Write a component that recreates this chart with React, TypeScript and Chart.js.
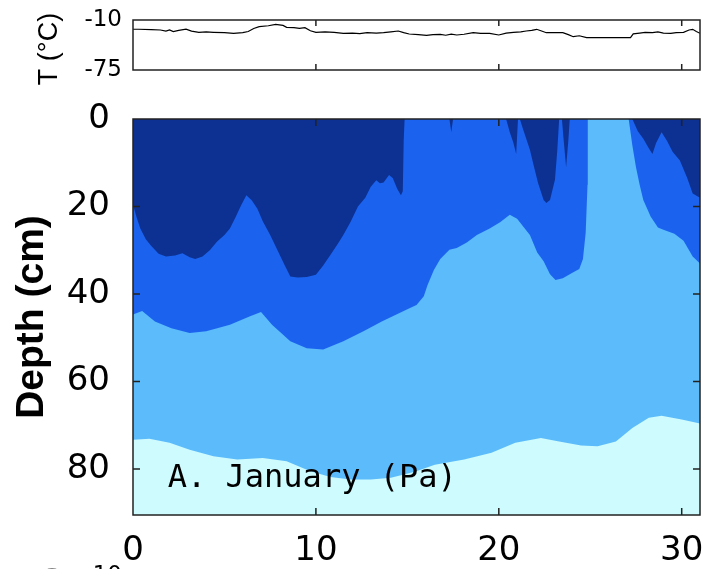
import React, { useEffect, useRef } from "react";
import { Chart, registerables } from "chart.js";

Chart.register(...registerables);

// ---------- data ----------
const DAY_MIN = 0;
const DAY_MAX = 31;
const DEPTH_MIN = 0;
const DEPTH_MAX = 90.5;
const TEMP_MIN = -75;
const TEMP_MAX = -10;

const DAY_TICKS = [0, 10, 20, 30];
const DEPTH_TICKS = [0, 20, 40, 60, 80];
const TEMP_TICKS = [-75, -10];

const TEMP_TITLE = "T (°C)";
const DEPTH_TITLE = "Depth (cm)";
const ANNOTATION = "A. January (Pa)";
const ANNOTATION_DAY = 1.9;
const ANNOTATION_DEPTH = 84.1;

// air temperature (top panel)
const tempDays = [
  0, 0.3, 1.0, 1.5, 1.8, 2.0, 2.2, 2.5, 2.9, 3.2, 3.6, 4.0, 4.4, 5.0, 5.5, 6.0,
  6.3, 6.6, 6.9, 7.4, 7.8, 8.2, 8.4, 8.8, 9.1, 9.4, 9.7, 10.0, 10.5, 11.0, 11.5,
  12.0, 12.4, 12.8, 13.3, 13.7, 14.1, 14.5, 14.8, 15.1, 15.6, 16.05, 16.4, 16.8,
  17.1, 17.4, 17.7, 18.1, 18.6, 19.0, 19.5, 20.0, 20.4, 20.8, 21.2, 21.5, 21.8,
  22.07, 22.3, 22.6, 23.0, 23.5, 23.8, 24.07, 24.4, 24.8, 25.5, 26.2, 27.2,
  27.35, 27.7, 28.0, 28.4, 28.7, 29.0, 29.4, 29.7, 30.1, 30.4, 30.6, 30.8, 31,
];
const tempValues = [
  -22, -22, -22.5, -23, -24.5, -23, -25, -23.5, -22, -24.5, -26, -25.5, -26,
  -26.5, -27.3, -26.5, -25, -21, -18.7, -17.5, -15.6, -17, -19.5, -20, -21, -20,
  -24, -26, -25.5, -26, -27.3, -27, -27.8, -26.5, -27, -26.5, -25.5, -24.3,
  -26.5, -28.2, -29, -29.9, -29, -28.6, -29.8, -28.5, -29.5, -28.5, -26.5,
  -27.5, -27.3, -29.5, -27, -26, -25.5, -24.3, -23.5, -22.1, -24, -26.5, -26.5,
  -26.5, -29, -31.7, -30.5, -33, -33, -33, -33, -28, -27, -26, -26.5, -25.5,
  -27, -27.3, -26.5, -26, -23, -22.1, -25, -27.3,
];

// contour boundaries: [day, depth in cm]
const darkEdge: [number, number][] = [
  [0, 19.6], [0.2, 22.5], [0.4, 25], [0.7, 27.5], [1, 29], [1.4, 30.8],
  [1.8, 31.4], [2.3, 31.2], [2.7, 30.7], [3.1, 31.6], [3.4, 32], [3.8, 31.4],
  [4.2, 30], [4.6, 28], [5, 26.5], [5.3, 25], [5.6, 22.5], [5.9, 19.8],
  [6.2, 17.4], [6.5, 18.6], [6.8, 20.5], [7.1, 23.4], [7.5, 26.5], [7.9, 30],
  [8.3, 33.5], [8.6, 36], [9.0, 36.2], [9.5, 36.1], [10.0, 35.6], [10.4, 33.5],
  [10.8, 31], [11.2, 28.5], [11.5, 26.5], [11.9, 23.5], [12.3, 20], [12.7, 18],
  [13.0, 15.5], [13.3, 14], [13.5, 14.7], [13.7, 14.5], [14.0, 12.8],
  [14.2, 13.5], [14.45, 16], [14.65, 17.4], [14.75, 16.5], [14.8, 5],
  [14.85, 0], [17.3, 0], [17.4, 3], [17.5, 0], [20.4, 0], [20.6, 3],
  [20.8, 5.5], [20.95, 8], [21.05, 0], [21.15, 0], [21.3, 2], [21.5, 4.5],
  [21.7, 7], [21.9, 10.5], [22.15, 14.7], [22.45, 18.5], [22.6, 19.2],
  [22.8, 18.5], [23.07, 13.9], [23.2, 7], [23.3, 0], [23.45, 0], [23.55, 5],
  [23.68, 11], [23.8, 5], [23.88, 0], [27.3, 0], [27.6, 2.8], [27.9, 4.5],
  [28.2, 6.7], [28.4, 8], [28.6, 5.5], [28.9, 3], [29.2, 5], [29.5, 7.5],
  [29.9, 9.5], [30.3, 13.5], [30.6, 17], [31, 18],
];

const mediumEdge: [number, number][] = [
  [0, 44.7], [0.5, 43.9], [1.2, 46.3], [2.1, 47.8], [3.1, 48.9], [4.0, 48.5],
  [5.3, 47], [6.4, 45.1], [7.0, 44.1], [7.6, 47], [8.6, 50.8], [9.5, 52.4],
  [10.4, 52.7], [11.5, 50.8], [12.6, 48.5], [13.6, 46.3], [14.4, 44.7],
  [15.0, 43.5], [15.5, 42.5], [15.9, 40.5], [16.1, 38], [16.45, 34.5],
  [16.8, 32], [17.3, 29.9], [17.7, 29.5], [18.25, 28.2], [18.8, 26.5],
  [19.5, 25], [20.07, 23.6], [20.6, 21.9], [21.0, 22.8], [21.7, 26.5],
  [22.1, 30.5], [22.45, 32.5], [22.8, 35.5], [23.1, 36.8], [23.5, 36.4],
  [24.0, 35.2], [24.4, 34.3], [24.6, 32], [24.75, 26], [24.85, 15],
  [24.86, 5], [24.87, 0], [27.1, 0], [27.3, 6], [27.5, 11], [27.7, 15],
  [27.9, 18.5], [28.3, 22.3], [28.7, 24.8], [29.0, 25.3], [29.6, 26.2],
  [30.1, 27.8], [30.6, 31.4], [31, 33],
];

const lightEdge: [number, number][] = [
  [0, 73.3], [0.9, 73.1], [2.0, 74], [3.1, 75.6], [4.4, 77.1], [5.7, 77.8],
  [7.1, 77.5], [8.4, 78.2], [9.7, 80.5], [10.8, 81.8], [11.9, 82.4],
  [13.0, 82.4], [14.1, 82], [15.4, 80.6], [16.5, 79], [18.1, 77.8],
  [19.6, 76.3], [20.9, 74], [22.3, 72.9], [23.3, 73.7], [24.5, 74.6],
  [25.4, 74.8], [26.4, 73.7], [27.3, 70.6], [28.2, 68.3], [28.9, 67.8],
  [30.0, 68.7], [31, 69.6],
];

// ---------- style ----------
const DARK = "#0c3193";
const MEDIUM = "#1b63ee";
const LIGHT = "#5bbbfb";
const PALE = "#cdfbfe";
const FRAME = "#222222";
const TICK_FONT = "DejaVu Sans";
const LABEL_FONT = "Liberation Sans";
const MONO_FONT = "DejaVu Sans Mono";

const toXY = (pts: [number, number][]) => pts.map(([x, y]) => ({ x, y }));

function framePlugin(
  id: string,
  xTicks: number[],
  yTicks: number[],
  tickLen: number,
  bg: string | null
) {
  return {
    id,
    beforeDatasetsDraw(chart: any) {
      if (!bg) return;
      const { ctx, chartArea: a } = chart;
      ctx.save();
      ctx.fillStyle = bg;
      ctx.fillRect(a.left, a.top, a.right - a.left, a.bottom - a.top);
      ctx.restore();
    },
    afterDatasetsDraw(chart: any) {
      const { ctx, chartArea: a, scales } = chart;
      ctx.save();
      ctx.strokeStyle = FRAME;
      ctx.lineWidth = 1.5;
      ctx.beginPath();
      xTicks.forEach((v) => {
        const px = scales.x.getPixelForValue(v);
        ctx.moveTo(px, a.bottom);
        ctx.lineTo(px, a.bottom - tickLen);
        ctx.moveTo(px, a.top);
        ctx.lineTo(px, a.top + tickLen);
      });
      yTicks.forEach((v) => {
        const py = scales.y.getPixelForValue(v);
        ctx.moveTo(a.left, py);
        ctx.lineTo(a.left + tickLen, py);
        ctx.moveTo(a.right, py);
        ctx.lineTo(a.right - tickLen, py);
      });
      ctx.stroke();
      ctx.strokeRect(a.left, a.top, a.right - a.left, a.bottom - a.top);
      ctx.restore();
    },
  };
}

function drawRotated(ctx: any, text: string, font: string, x: number, y: number) {
  ctx.save();
  ctx.fillStyle = "#000";
  ctx.font = font;
  ctx.translate(x, y);
  ctx.rotate(-Math.PI / 2);
  ctx.textAlign = "center";
  ctx.textBaseline = "middle";
  ctx.fillText(text, 0, 0);
  ctx.restore();
}

const tempTitlePlugin = {
  id: "tempTitle",
  afterDraw(chart: any) {
    const a = chart.chartArea;
    drawRotated(chart.ctx, TEMP_TITLE, `27px "${LABEL_FONT}"`, 50, (a.top + a.bottom) / 2 + 4);
  },
};

const annotationPlugin = {
  id: "annotation",
  afterDatasetsDraw(chart: any) {
    const { ctx, scales } = chart;
    ctx.save();
    ctx.fillStyle = "#000";
    ctx.font = `32px "${MONO_FONT}"`;
    ctx.textAlign = "left";
    ctx.textBaseline = "alphabetic";
    ctx.fillText(
      ANNOTATION,
      scales.x.getPixelForValue(ANNOTATION_DAY),
      scales.y.getPixelForValue(ANNOTATION_DEPTH)
    );
    ctx.restore();
  },
  afterDraw(chart: any) {
    // tops of the next panel's labels, cut by the page edge
    const { ctx } = chart;
    drawRotated(ctx, TEMP_TITLE, `27px "${LABEL_FONT}"`, 52, 603);
    ctx.save();
    ctx.fillStyle = "#000";
    ctx.font = `23px "${TICK_FONT}"`;
    ctx.textAlign = "right";
    ctx.textBaseline = "middle";
    ctx.fillText("-10", 122, 576);
    ctx.restore();
  },
};

export default function App() {
  const topRef = useRef<HTMLCanvasElement>(null);
  const mainRef = useRef<HTMLCanvasElement>(null);

  useEffect(() => {
    const topChart = new Chart(topRef.current as HTMLCanvasElement, {
      type: "line",
      data: {
        datasets: [
          {
            label: "T",
            data: tempDays.map((d, i) => ({ x: d, y: tempValues[i] })),
            borderColor: "#000",
            borderWidth: 1.2,
            pointRadius: 0,
            fill: false,
            tension: 0,
          },
        ],
      },
      options: {
        animation: false,
        responsive: false,
        layout: { padding: { top: 20, bottom: 30, left: 0, right: 5 } },
        plugins: { legend: { display: false }, tooltip: { enabled: false } },
        scales: {
          x: { type: "linear", min: DAY_MIN, max: DAY_MAX, display: false },
          y: {
            type: "linear",
            min: TEMP_MIN,
            max: TEMP_MAX,
            afterBuildTicks: (s: any) => {
              s.ticks = TEMP_TICKS.map((v) => ({ value: v }));
            },
            afterFit: (s: any) => {
              s.width = 133;
              s.paddingTop = 0;
              s.paddingBottom = 0;
            },
            grid: { display: false, drawTicks: false },
            border: { display: false },
            ticks: {
              font: { family: TICK_FONT, size: 23 },
              color: "#000",
              padding: 11,
            },
          },
        },
      } as any,
      plugins: [framePlugin("frameTop", [10, 20, 30], [], 6, null), tempTitlePlugin],
    });

    const mainChart = new Chart(mainRef.current as HTMLCanvasElement, {
      type: "line",
      data: {
        datasets: [
          {
            label: "dark",
            data: toXY(darkEdge),
            fill: { value: 0 },
            backgroundColor: DARK,
            borderColor: "rgba(0,0,0,0)",
            borderWidth: 0,
            pointRadius: 0,
            tension: 0,
          },
          {
            label: "medium",
            data: toXY(mediumEdge),
            fill: { value: 0 },
            backgroundColor: MEDIUM,
            borderColor: "rgba(0,0,0,0)",
            borderWidth: 0,
            pointRadius: 0,
            tension: 0,
          },
          {
            label: "light",
            data: toXY(lightEdge),
            fill: { value: 0 },
            backgroundColor: LIGHT,
            borderColor: "rgba(0,0,0,0)",
            borderWidth: 0,
            pointRadius: 0,
            tension: 0,
          },
        ],
      },
      options: {
        animation: false,
        responsive: false,
        layout: { padding: { top: 119, bottom: 0, left: 0, right: 5 } },
        plugins: { legend: { display: false }, tooltip: { enabled: false } },
        scales: {
          x: {
            type: "linear",
            min: DAY_MIN,
            max: DAY_MAX,
            afterBuildTicks: (s: any) => {
              s.ticks = DAY_TICKS.map((v) => ({ value: v }));
            },
            afterFit: (s: any) => {
              s.height = 54;
              s.paddingLeft = 0;
              s.paddingRight = 0;
            },
            grid: { display: false, drawTicks: false },
            border: { display: false },
            ticks: {
              font: { family: TICK_FONT, size: 34 },
              color: "#000",
              padding: 16,
              maxRotation: 0,
              autoSkip: false,
            },
          },
          y: {
            type: "linear",
            reverse: true,
            min: DEPTH_MIN,
            max: DEPTH_MAX,
            afterBuildTicks: (s: any) => {
              s.ticks = DEPTH_TICKS.map((v) => ({ value: v }));
            },
            afterFit: (s: any) => {
              s.width = 133;
              s.paddingTop = 0;
              s.paddingBottom = 0;
            },
            grid: { display: false, drawTicks: false },
            border: { display: false },
            ticks: {
              font: { family: TICK_FONT, size: 34 },
              color: "#000",
              padding: 23,
            },
            title: {
              display: true,
              text: DEPTH_TITLE,
              font: { family: LABEL_FONT, size: 39, weight: "bold" },
              color: "#000",
              padding: { top: 9, bottom: 0 },
            },
          },
        },
      } as any,
      plugins: [
        framePlugin("frameMain", [10, 20, 30], [20, 40, 60, 80], 7, PALE),
        annotationPlugin,
      ],
    });

    return () => {
      topChart.destroy();
      mainChart.destroy();
    };
  }, []);

  return (
    <div
      style={{
        position: "absolute",
        left: 0,
        top: 0,
        width: 705,
        height: 569,
        overflow: "hidden",
        background: "#fff",
      }}
    >
      <canvas
        ref={mainRef}
        width={705}
        height={569}
        style={{ position: "absolute", left: 0, top: 0, width: 705, height: 569 }}
      />
      <canvas
        ref={topRef}
        width={705}
        height={100}
        style={{ position: "absolute", left: 0, top: 0, width: 705, height: 100 }}
      />
    </div>
  );
}
